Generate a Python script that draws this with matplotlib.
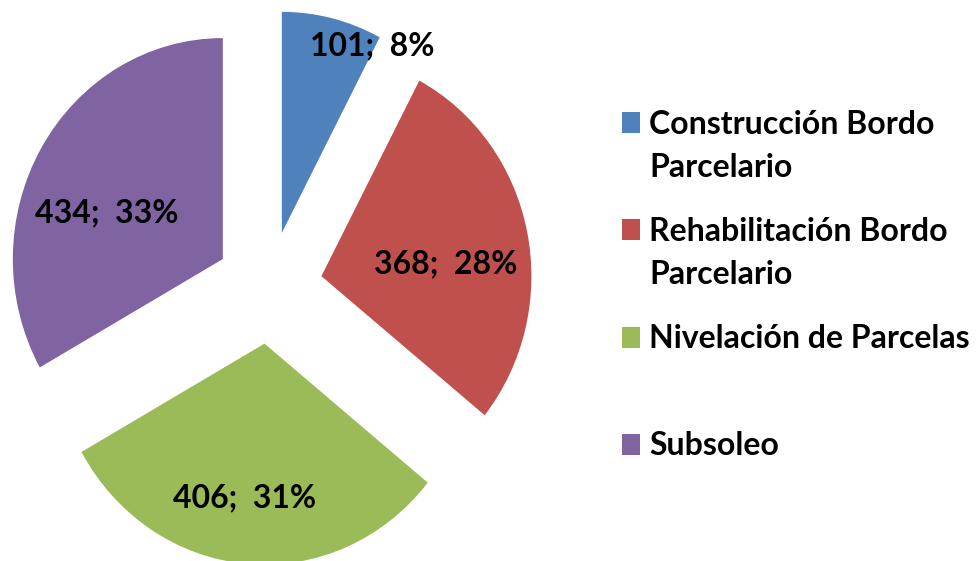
import matplotlib
matplotlib.use("Agg")
import matplotlib.pyplot as plt
from matplotlib.patches import Rectangle

categories = ["Construcción Bordo\nParcelario", "Rehabilitación Bordo\nParcelario",
              "Nivelación de Parcelas", "Subsoleo"]
values = [101, 368, 406, 434]
percents = [8, 28, 31, 33]

colors = ["#4F81BD", "#C0504D", "#9BBB59", "#8064A2"]
FONT = ["Lato", "DejaVu Sans"]
W, H = 978, 561
K = 210 / 221  # vertical stretch of the original picture


def py(y):
    """pixel row (from top) -> data y"""
    return (H - y) * K


fig = plt.figure(figsize=(W / 100, H / 100), dpi=100)
ax = fig.add_axes([0, 0, 1, 1])

R = 210
center = (269, py(287.5))
wedges, _ = ax.pie(values, colors=colors, startangle=90, counterclock=False,
                   radius=R, center=center, explode=[53.5] * len(values),
                   frame=True, wedgeprops=dict(linewidth=0))
ax.set_aspect("auto")
ax.set_xlim(0, W)
ax.set_ylim(0, H * K)
ax.axis("off")

# label offsets relative to wedge apex, in pixels (right, down)
label_off = [(90.5, -187), (124, -12), (-20, 154.5), (-116.5, -46)]
for w, v, p, (dx, dy) in zip(wedges, values, percents, label_off):
    cx, cy = w.center
    ax.text(cx + dx, cy - dy * K, f"{v};  {p}%", ha="center", va="center",
            fontsize=23, fontweight="bold", family=FONT, color="black")

# legend (Excel-style: marker aligned with first line)
LINE = 44
baselines = [133, 240, 348, 455]
for lab, col, b in zip(categories, colors, baselines):
    n = lab.count("\n")
    ax.add_patch(Rectangle((622, py(b)), 18, 21 * K, facecolor=col, edgecolor="none"))
    ax.text(649, py(b + n * LINE), lab, ha="left", va="baseline", fontsize=23,
            fontweight="bold", family=FONT, color="black", linespacing=1.59)

fig.savefig("out.png", dpi=100)
